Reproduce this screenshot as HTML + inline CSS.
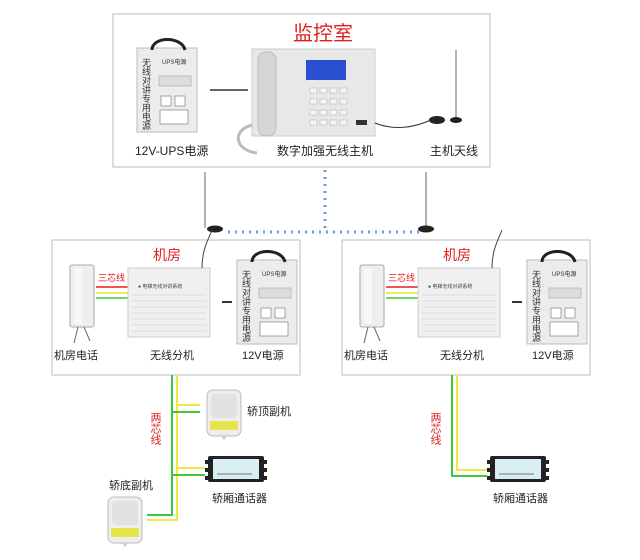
<!DOCTYPE html>
<html><head><meta charset="utf-8"><style>
html,body{margin:0;padding:0;background:#fff;}
svg{display:block;font-family:"Liberation Sans","Noto Sans CJK SC",sans-serif;}
</style></head><body>
<svg width="640" height="560" viewBox="0 0 640 560" xmlns="http://www.w3.org/2000/svg">
<defs>
<g id="psu">
<rect x="0" y="8" width="60" height="84" fill="#ececec" stroke="#bbb"/>
<path d="M15 10 C15 -4 45 -4 48 10" fill="none" stroke="#222" stroke-width="3"/>
<text x="9" y="18" font-size="9" fill="#333" writing-mode="tb">无线对讲专用电源</text>
<text x="25" y="24" font-size="6" fill="#333">UPS电源</text>
<rect x="22" y="36" width="32" height="10" fill="#ddd" stroke="#999" stroke-width="0.5"/>
<rect x="24" y="56" width="10" height="10" fill="#fff" stroke="#555" stroke-width="0.5"/>
<rect x="38" y="56" width="10" height="10" fill="#fff" stroke="#555" stroke-width="0.5"/>
<rect x="23" y="70" width="28" height="14" fill="#fff" stroke="#555" stroke-width="0.5"/>
</g>
<g id="spk">
<rect x="0" y="0" width="34" height="46" rx="6" fill="#eee" stroke="#bbb"/>
<rect x="4" y="4" width="26" height="24" rx="4" fill="#e2e2e2"/>
<rect x="3" y="31" width="28" height="9" fill="#e6e64a"/>
<path d="M14 46 l3 4 l3 -4" fill="#ccc"/>
</g>
<g id="box">
<rect x="0" y="6" width="56" height="26" fill="#222" rx="2"/>
<rect x="-3" y="10" width="3" height="4" fill="#222"/><rect x="-3" y="18" width="3" height="4" fill="#222"/><rect x="-3" y="26" width="3" height="4" fill="#222"/>
<rect x="56" y="10" width="3" height="4" fill="#222"/><rect x="56" y="18" width="3" height="4" fill="#222"/><rect x="56" y="26" width="3" height="4" fill="#222"/>
<rect x="5" y="9" width="46" height="20" fill="#d8eef2"/>
<line x1="9" y1="24" x2="44" y2="24" stroke="#777"/>
</g>
<g id="room">
<rect x="0" y="0" width="248" height="135" fill="#fff" stroke="#bbb"/>
<text x="101" y="20" font-size="14" fill="#e02020">机房</text>
<rect x="18" y="25" width="24" height="62" rx="2" fill="#eee" stroke="#aaa"/>
<rect x="22" y="28" width="8" height="56" fill="#f7f7f7"/>
<path d="M26 87 l-4 16 M32 87 l6 14" stroke="#666" fill="none"/>
<text x="46" y="41" font-size="9" fill="#e02020">三芯线</text>
<line x1="44" y1="47" x2="76" y2="47" stroke="#e02020" stroke-width="1.5"/>
<line x1="44" y1="53" x2="76" y2="53" stroke="#e6e02a" stroke-width="1.5"/>
<line x1="44" y1="58" x2="76" y2="58" stroke="#3cc83c" stroke-width="1.5"/>
<rect x="76" y="28" width="82" height="69" fill="#f0f0f0" stroke="#ccc"/>
<g stroke="#ddd"><line x1="80" y1="55" x2="154" y2="55"/><line x1="80" y1="61" x2="154" y2="61"/><line x1="80" y1="67" x2="154" y2="67"/><line x1="80" y1="73" x2="154" y2="73"/><line x1="80" y1="79" x2="154" y2="79"/><line x1="80" y1="85" x2="154" y2="85"/><line x1="80" y1="91" x2="154" y2="91"/></g>
<text x="86" y="48" font-size="5" fill="#444">● 电梯无线对讲系统</text>
<path d="M150 28 C150 10 156 0 160 -10" stroke="#444" fill="none"/>
<line x1="170" y1="62" x2="180" y2="62" stroke="#333" stroke-width="2"/>
<use href="#psu" x="185" y="12"/>
<text x="2" y="119" font-size="11" fill="#222">机房电话</text>
<text x="98" y="119" font-size="11" fill="#222">无线分机</text>
<text x="190" y="119" font-size="11" fill="#222">12V电源</text>
</g>
</defs>

<rect x="113" y="14" width="377" height="153" fill="#fff" stroke="#bbb"/>
<text x="293" y="40" font-size="20" fill="#e02020">监控室</text>
<use href="#psu" x="137" y="40"/>
<line x1="210" y1="90" x2="248" y2="90" stroke="#333" stroke-width="1.5"/>
<rect x="252" y="49" width="123" height="87" fill="#e8e8e8" stroke="#ccc"/>
<rect x="258" y="52" width="18" height="84" rx="8" fill="#d6d6d6" stroke="#bbb"/>
<rect x="306" y="60" width="40" height="20" fill="#2a4fd0"/>
<g fill="#f6f6f6" stroke="#aaa" stroke-width="0.5">
<rect x="310" y="88" width="7" height="5"/><rect x="320" y="88" width="7" height="5"/><rect x="330" y="88" width="7" height="5"/><rect x="340" y="88" width="7" height="5"/>
<rect x="310" y="99" width="7" height="5"/><rect x="320" y="99" width="7" height="5"/><rect x="330" y="99" width="7" height="5"/><rect x="340" y="99" width="7" height="5"/>
<rect x="310" y="110" width="7" height="5"/><rect x="320" y="110" width="7" height="5"/><rect x="330" y="110" width="7" height="5"/><rect x="340" y="110" width="7" height="5"/>
<rect x="310" y="120" width="7" height="5"/><rect x="320" y="120" width="7" height="5"/><rect x="330" y="120" width="7" height="5"/><rect x="340" y="120" width="7" height="5"/>
</g>
<rect x="356" y="120" width="11" height="5" fill="#333"/>
<path d="M252 125 c-20 5 -18 25 5 28" stroke="#bbb" stroke-width="3" fill="none"/>
<path d="M375 123 c20 8 40 5 60 -5" stroke="#333" fill="none"/>
<line x1="456" y1="50" x2="456" y2="118" stroke="#666"/>
<ellipse cx="437" cy="120" rx="8" ry="4" fill="#222"/><ellipse cx="456" cy="120" rx="6" ry="3" fill="#222"/>
<text x="135" y="155" font-size="12" fill="#222">12V-UPS电源</text>
<text x="277" y="155" font-size="12" fill="#222">数字加强无线主机</text>
<text x="430" y="155" font-size="12" fill="#222">主机天线</text>

<line x1="325" y1="170" x2="325" y2="232" stroke="#6f9be6" stroke-width="3" stroke-dasharray="2 5"/>
<line x1="228" y1="232" x2="422" y2="232" stroke="#6f9be6" stroke-width="3" stroke-dasharray="2 5"/>
<line x1="205" y1="172" x2="205" y2="228" stroke="#666"/>
<ellipse cx="215" cy="229" rx="8" ry="3.5" fill="#222"/>
<line x1="426" y1="172" x2="426" y2="228" stroke="#666"/>
<ellipse cx="426" cy="229" rx="8" ry="3.5" fill="#222"/>

<use href="#room" x="52" y="240"/>
<use href="#room" x="342" y="240"/>

<g fill="none" stroke-width="2">
<path d="M177 375 V520 H147 M177 405 H200 M177 468 H205" stroke="#f0ea40"/>
<path d="M172 375 V515 H147 M172 412 H200 M172 475 H205" stroke="#3cc83c"/>
<path d="M457 375 V470 H487" stroke="#f0ea40"/>
<path d="M452 375 V476 H487" stroke="#3cc83c"/>
</g>
<text x="155" y="412" font-size="11" fill="#e02020" writing-mode="tb">两芯线</text>
<text x="435" y="412" font-size="11" fill="#e02020" writing-mode="tb">两芯线</text>
<use href="#spk" x="207" y="390"/>
<text x="247" y="415" font-size="11" fill="#222">轿顶副机</text>
<use href="#box" x="208" y="450"/>
<text x="212" y="502" font-size="11" fill="#222">轿厢通话器</text>
<text x="109" y="489" font-size="11" fill="#222">轿底副机</text>
<use href="#spk" x="108" y="497"/>
<use href="#box" x="490" y="450"/>
<text x="493" y="502" font-size="11" fill="#222">轿厢通话器</text>
</svg>
</body></html>
